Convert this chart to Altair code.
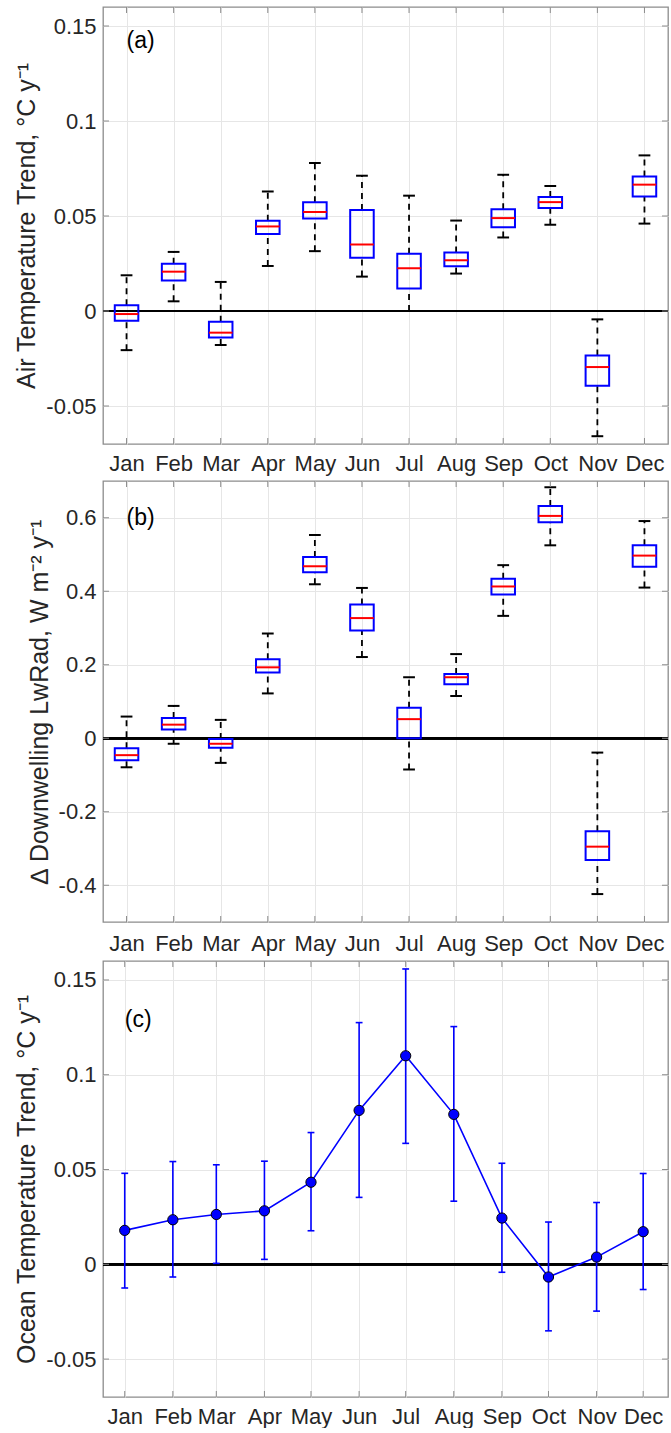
import json
import altair as alt
import pandas as pd

# ---------------- data ----------------
months = ["Jan", "Feb", "Mar", "Apr", "May", "Jun", "Jul", "Aug", "Sep", "Oct", "Nov", "Dec"]
month_num = [1, 2, 3, 4, 5, 6, 7, 8, 9, 10, 11, 12]

# (a) air temperature trend box statistics (degC / yr)
air_wlo = [-0.0206, 0.0051, -0.0179, 0.0237, 0.0315, 0.0181, 0.0000, 0.0197, 0.0387, 0.0454, -0.0659, 0.0460]
air_q1 = [-0.0051, 0.0160, -0.0139, 0.0405, 0.0487, 0.0280, 0.0118, 0.0236, 0.0441, 0.0542, -0.0394, 0.0603]
air_med = [-0.0016, 0.0207, -0.0114, 0.0445, 0.0521, 0.0350, 0.0225, 0.0267, 0.0489, 0.0573, -0.0295, 0.0665]
air_q3 = [0.0030, 0.0249, -0.0056, 0.0475, 0.0573, 0.0531, 0.0301, 0.0308, 0.0536, 0.0600, -0.0234, 0.0708]
air_whi = [0.0188, 0.0311, 0.0153, 0.0629, 0.0779, 0.0712, 0.0607, 0.0476, 0.0717, 0.0658, -0.0044, 0.0819]

# (b) downwelling longwave radiation change box statistics (W m-2 / yr)
lw_wlo = [-0.079, -0.015, -0.067, 0.122, 0.419, 0.221, -0.085, 0.115, 0.333, 0.525, -0.424, 0.410]
lw_q1 = [-0.060, 0.024, -0.026, 0.179, 0.452, 0.293, 0.000, 0.147, 0.391, 0.588, -0.331, 0.467]
lw_med = [-0.046, 0.037, -0.015, 0.193, 0.468, 0.327, 0.052, 0.166, 0.413, 0.605, -0.295, 0.497]
lw_q3 = [-0.027, 0.055, -0.002, 0.215, 0.493, 0.364, 0.083, 0.175, 0.434, 0.632, -0.253, 0.525]
lw_whi = [0.059, 0.088, 0.050, 0.285, 0.553, 0.409, 0.166, 0.229, 0.471, 0.683, -0.039, 0.591]

# (c) ocean temperature trend with uncertainty (degC / yr), x = day of year
ocean_doy = [15, 46, 74, 105, 135, 166, 196, 227, 258, 288, 319, 349]
ocean_mean = [0.0179, 0.0235, 0.0263, 0.0282, 0.0433, 0.0812, 0.1100, 0.0791, 0.0244, -0.0067, 0.0038, 0.0172]
ocean_lo = [-0.0125, -0.0067, 0.0005, 0.0026, 0.0177, 0.0353, 0.0638, 0.0333, -0.0042, -0.0351, -0.0247, -0.0133]
ocean_hi = [0.0480, 0.0542, 0.0525, 0.0544, 0.0695, 0.1275, 0.1558, 0.1254, 0.0533, 0.0223, 0.0326, 0.0479]

ticks_a = [-0.05, 0, 0.05, 0.1, 0.15]
ticks_b = [-0.4, -0.2, 0, 0.2, 0.4, 0.6]
ticks_c = [-0.05, 0, 0.05, 0.1, 0.15]

title_a = "Air Temperature Trend, °C y⁻¹"
title_b = "∆ Downwelling LwRad, W m⁻² y⁻¹"
title_c = "Ocean Temperature Trend, °C y⁻¹"

# ---------------- style ----------------
FONT = "Liberation Sans"
FRAME = "#8c8c8c"
GRID = "#e6e6e6"
BLUE = "#0000ff"
RED = "#ff0000"
TICK_LEN = 6
FRAME_W = 1.3
PW = 565


def make_axes(xvals, xlabel_expr, yvals, xpad):
    xaxis = alt.Axis(values=xvals, labelExpr=xlabel_expr, grid=True, ticks=False,
                     domain=False, labelPadding=xpad, labelFlush=False, labelOverlap=False)
    yaxis = alt.Axis(values=yvals, labelExpr="'' + datum.value", grid=True, ticks=False,
                     domain=False, labelPadding=7, titlePadding=6, labelOverlap=False)
    return xaxis, yaxis


def frame_ticks(xdf, xfield, ydf, yfield, X, Y, W, H):
    top = alt.Chart(xdf).mark_rule(color=FRAME, strokeWidth=1).encode(
        x=X(xfield), y=alt.value(0), y2=alt.value(TICK_LEN))
    bot = alt.Chart(xdf).mark_rule(color=FRAME, strokeWidth=1).encode(
        x=X(xfield), y=alt.value(H), y2=alt.value(H - TICK_LEN))
    left = alt.Chart(ydf).mark_rule(color=FRAME, strokeWidth=1).encode(
        y=Y(yfield), x=alt.value(0), x2=alt.value(TICK_LEN))
    right = alt.Chart(ydf).mark_rule(color=FRAME, strokeWidth=1).encode(
        y=Y(yfield), x=alt.value(W), x2=alt.value(W - TICK_LEN))
    return [top, bot, left, right]


def box_panel(wlo, q1, med, q3, whi, ydomain, yticks, ytitle, label, label_y, W, H, xpad=9):
    df = pd.DataFrame({"m": month_num, "wlo": wlo, "q1": q1, "med": med, "q3": q3, "whi": whi})
    xlabel_expr = json.dumps(months) + "[datum.value - 1]"
    xaxis, yaxis = make_axes(month_num, xlabel_expr, yticks, xpad)
    xs = alt.Scale(domain=[0.5, 12.5], nice=False, zero=False)
    ys = alt.Scale(domain=ydomain, nice=False, zero=False)

    def X(f):
        return alt.X(f, type="quantitative", scale=xs, axis=xaxis, title=None)

    def Y(f):
        return alt.Y(f, type="quantitative", scale=ys, axis=yaxis, title=ytitle)

    base = alt.Chart(df).transform_calculate(
        xl="datum.m - 0.25", xr="datum.m + 0.25",
        cl="datum.m - 0.125", cr="datum.m + 0.125", zero="0")

    zero = base.mark_rule(color="black", strokeWidth=2).encode(y=Y("zero"))
    wh_up = base.mark_rule(color="black", strokeWidth=1.8, strokeDash=[6, 5]).encode(
        x=X("m"), y=Y("q3"), y2="whi")
    wh_lo = base.mark_rule(color="black", strokeWidth=1.8, strokeDash=[6, 5]).encode(
        x=X("m"), y=Y("wlo"), y2="q1")
    cap_up = base.mark_rule(color="black", strokeWidth=2).encode(x=X("cl"), x2="cr", y=Y("whi"))
    cap_lo = base.mark_rule(color="black", strokeWidth=2).encode(x=X("cl"), x2="cr", y=Y("wlo"))
    box = base.mark_rect(fill="white", fillOpacity=0, stroke=BLUE, strokeWidth=2).encode(
        x=X("xl"), x2="xr", y=Y("q1"), y2="q3")
    median = base.mark_rule(color=RED, strokeWidth=2).encode(x=X("xl"), x2="xr", y=Y("med"))

    ldf = pd.DataFrame({"lx": [1], "ly": [label_y], "t": [label]})
    lab = alt.Chart(ldf).mark_text(align="left", baseline="middle", fontSize=23, font=FONT,
                                   color="black").encode(x=X("lx"), y=Y("ly"), text="t:N")

    tdf = pd.DataFrame({"t": yticks})
    tk = frame_ticks(df, "m", tdf, "t", X, Y, W, H)

    return alt.layer(zero, wh_up, wh_lo, cap_up, cap_lo, box, median, lab, *tk).properties(
        width=W, height=H)


def ocean_panel(W, H):
    df = pd.DataFrame({"d": ocean_doy, "mean": ocean_mean, "lo": ocean_lo, "hi": ocean_hi})
    xlabel_expr = json.dumps(months) + "[indexof(" + json.dumps(ocean_doy) + ", datum.value)]"
    xaxis, yaxis = make_axes(ocean_doy, xlabel_expr, ticks_c, 9)
    xs = alt.Scale(domain=[1, 365], nice=False, zero=False)
    ys = alt.Scale(domain=[-0.07, 0.16], nice=False, zero=False)

    def X(f):
        return alt.X(f, type="quantitative", scale=xs, axis=xaxis, title=None)

    def Y(f):
        return alt.Y(f, type="quantitative", scale=ys, axis=yaxis, title=title_c)

    base = alt.Chart(df).transform_calculate(cl="datum.d - 2.2", cr="datum.d + 2.2", zero="0")
    zero = base.mark_rule(color="black", strokeWidth=2).encode(y=Y("zero"))
    err = base.mark_rule(color=BLUE, strokeWidth=1.6).encode(x=X("d"), y=Y("lo"), y2="hi")
    cap_hi = base.mark_rule(color=BLUE, strokeWidth=1.6).encode(x=X("cl"), x2="cr", y=Y("hi"))
    cap_lo = base.mark_rule(color=BLUE, strokeWidth=1.6).encode(x=X("cl"), x2="cr", y=Y("lo"))
    line = base.mark_line(color=BLUE, strokeWidth=1.6).encode(x=X("d"), y=Y("mean"))
    pts = base.mark_point(filled=True, fill=BLUE, stroke="black", strokeWidth=1, size=105,
                          opacity=1, fillOpacity=1).encode(x=X("d"), y=Y("mean"))

    ldf = pd.DataFrame({"lx": [15], "ly": [0.129], "t": ["(c)"]})
    lab = alt.Chart(ldf).mark_text(align="left", baseline="middle", fontSize=23, font=FONT,
                                   color="black").encode(x=X("lx"), y=Y("ly"), text="t:N")
    tdf = pd.DataFrame({"t": ticks_c})
    tk = frame_ticks(df, "d", tdf, "t", X, Y, W, H)
    return alt.layer(zero, err, cap_hi, cap_lo, line, pts, lab, *tk).properties(width=W, height=H)


panel_a = box_panel(air_wlo, air_q1, air_med, air_q3, air_whi, [-0.07, 0.16], ticks_a,
                    title_a, "(a)", 0.142, PW, 437)
panel_b = box_panel(lw_wlo, lw_q1, lw_med, lw_q3, lw_whi, [-0.5, 0.7], ticks_b,
                    title_b, "(b)", 0.6, PW, 441, xpad=11)
panel_c = ocean_panel(PW, 436)

chart = alt.ConcatChart(concat=[panel_a, panel_b, panel_c], columns=1, spacing=4).properties(
    padding={"left": 14, "top": 5, "right": 0, "bottom": 0}
).configure_view(
    stroke=FRAME, strokeWidth=FRAME_W
).configure_axis(
    labelFont=FONT, titleFont=FONT, labelFontSize=22, titleFontSize=25,
    titleFontWeight="normal", labelColor="#262626", titleColor="#262626",
    gridColor=GRID, gridWidth=1
)

chart.save("out.html", embed_options={"renderer": "svg", "actions": False})
